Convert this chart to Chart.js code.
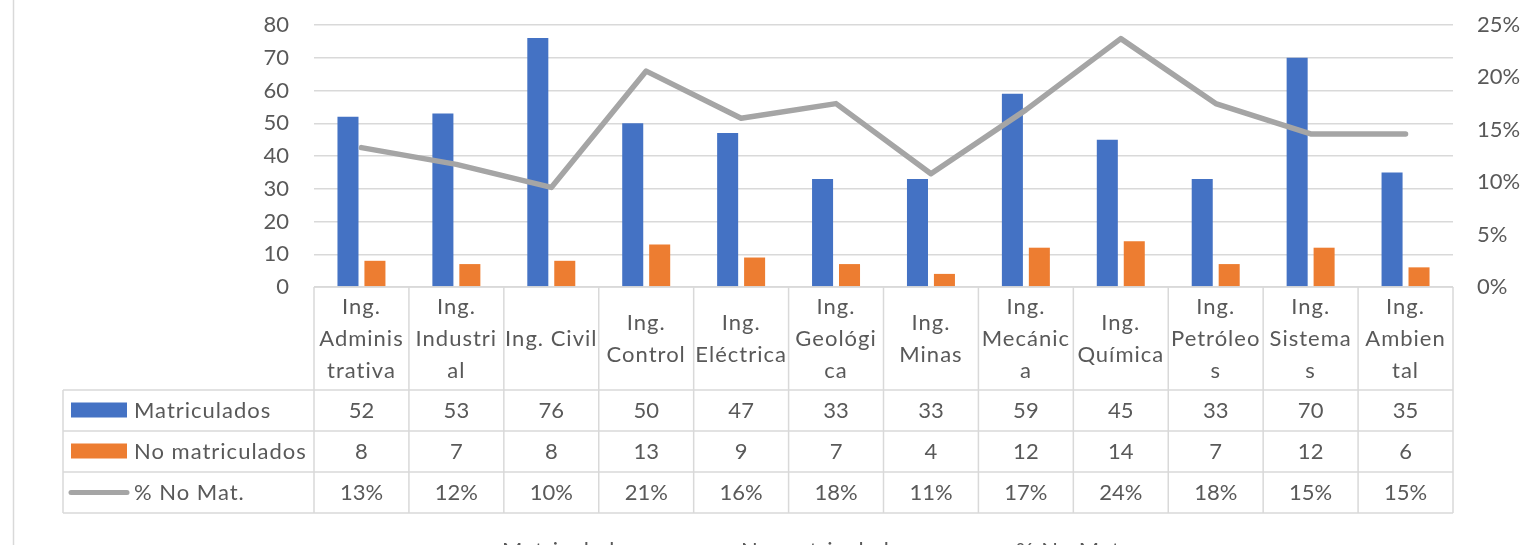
<!DOCTYPE html>
<html>
<head>
<meta charset="utf-8">
<script src="https://cdn.jsdelivr.net/npm/chart.js@4.4.1/dist/chart.umd.min.js"></script>
<style>
  html, body { margin: 0; padding: 0; background: #fff; }
  #chart { display: block; }
</style>
</head>
<body>
<canvas id="chart" width="1527" height="545"></canvas>
<script>
// Data
const categories = [
    ['Ing.', 'Adminis', 'trativa'], ['Ing.', 'Industri', 'al'], ['Ing. Civil'], ['Ing.', 'Control'],
    ['Ing.', 'Eléctrica'], ['Ing.', 'Geológi', 'ca'], ['Ing.', 'Minas'], ['Ing.', 'Mecánic', 'a'],
    ['Ing.', 'Química'], ['Ing.', 'Petróleo', 's'], ['Ing.', 'Sistema', 's'], ['Ing.', 'Ambien', 'tal']
];
const matriculados = [52, 53, 76, 50, 47, 33, 33, 59, 45, 33, 70, 35];
const noMatriculados = [8, 7, 8, 13, 9, 7, 4, 12, 14, 7, 12, 6];
const pctNoMat = [13.3, 11.7, 9.5, 20.6, 16.1, 17.5, 10.8, 16.9, 23.7, 17.5, 14.6, 14.6];
const seriesNames = ['Matriculados', 'No matriculados', '% No Mat.'];

const BLUE = '#4472C4', ORANGE = '#ED7D31', GRAY = '#A5A5A5';
const TEXT = '#595959', GRID = '#D9D9D9';
const FONT = '22px Lato';

Chart.defaults.font.family = 'Lato';
Chart.defaults.font.size = 22;
Chart.defaults.color = TEXT;

// Excel-style data table under the plot, plus frame and legend
const dataTable = {
    id: 'dataTable',
    beforeDraw(chart) {
        const ctx = chart.ctx;
        ctx.save();
        ctx.strokeStyle = GRID;
        ctx.lineWidth = 1.5;
        ctx.beginPath();
        ctx.moveTo(13.5, 0);
        ctx.lineTo(13.5, chart.height);
        ctx.stroke();
        ctx.restore();
    },
    afterDraw(chart) {
        const ctx = chart.ctx;
        const area = chart.chartArea;
        const x = chart.scales.x;
        const n = categories.length;
        const colW = (area.right - area.left) / n;
        const top = area.bottom;
        const headBottom = 390;
        const rowH = 41;
        const tableLeft = 63;
        const tableBottom = headBottom + rowH * 3;

        ctx.save();
        ctx.strokeStyle = GRID;
        ctx.lineWidth = 1.5;
        ctx.beginPath();
        // horizontal lines
        ctx.moveTo(area.left, top); ctx.lineTo(area.right, top);
        for (let r = 0; r <= 3; r++) {
            const y = headBottom + r * rowH;
            ctx.moveTo(tableLeft, y); ctx.lineTo(area.right, y);
        }
        // vertical lines
        for (let i = 0; i <= n; i++) {
            const vx = area.left + i * colW;
            ctx.moveTo(vx, top); ctx.lineTo(vx, tableBottom);
        }
        ctx.moveTo(tableLeft, headBottom); ctx.lineTo(tableLeft, tableBottom);
        ctx.stroke();

        ctx.fillStyle = TEXT;
        ctx.font = FONT;
        ctx.textAlign = 'center';
        ctx.textBaseline = 'middle';

        // header row with wrapped category names
        ctx.letterSpacing = '1px';
        const headMid = (top + headBottom) / 2;
        categories.forEach((lines, i) => {
            const cx = x.getPixelForValue(i);
            const start = headMid - (lines.length - 1) * 16;
            lines.forEach((t, k) => ctx.fillText(t, cx, start + k * 32));
        });

        // value rows
        ctx.letterSpacing = '0px';
        const rows = [matriculados, noMatriculados, pctNoMat.map(v => Math.round(v) + '%')];
        rows.forEach((vals, r) => {
            const cy = headBottom + r * rowH + rowH / 2;
            vals.forEach((v, i) => ctx.fillText(String(v), x.getPixelForValue(i), cy));
        });

        // legend keys in first column
        ctx.textAlign = 'left';
        ctx.letterSpacing = '1px';
        rows.forEach((_, r) => {
            const cy = headBottom + r * rowH + rowH / 2;
            if (r < 2) {
                ctx.fillStyle = r === 0 ? BLUE : ORANGE;
                ctx.fillRect(71, cy - 8, 56, 15);
            } else {
                ctx.strokeStyle = GRAY;
                ctx.lineWidth = 5;
                ctx.lineCap = 'round';
                ctx.beginPath();
                ctx.moveTo(71, cy); ctx.lineTo(127, cy);
                ctx.stroke();
            }
            ctx.fillStyle = TEXT;
            ctx.fillText(seriesNames[r], 134, cy);
        });

        // bottom legend (mostly cut off by the canvas edge)
        const legendX = [502, 741, 1016];
        const ly = 551;
        seriesNames.forEach((name, i) => {
            if (i < 2) {
                ctx.fillStyle = i === 0 ? BLUE : ORANGE;
                ctx.fillRect(legendX[i] - 18, ly - 5, 10, 10);
            } else {
                ctx.strokeStyle = GRAY;
                ctx.lineWidth = 4;
                ctx.beginPath();
                ctx.moveTo(legendX[i] - 40, ly); ctx.lineTo(legendX[i] - 8, ly);
                ctx.stroke();
            }
            ctx.fillStyle = TEXT;
            ctx.fillText(name, legendX[i], ly);
        });
        ctx.restore();
    }
};

// fixed axis widths, no extra label padding so the plot keeps Excel's box
const fixAxis = (w) => (axis) => {
    axis.width = w;
    axis.paddingTop = 0;
    axis.paddingBottom = 0;
};

new Chart(document.getElementById('chart'), {
    type: 'bar',
    data: {
        labels: categories,
        datasets: [
            {
                type: 'line',
                label: seriesNames[2],
                data: pctNoMat,
                yAxisID: 'y1',
                borderColor: GRAY,
                backgroundColor: GRAY,
                borderWidth: 5.5,
                borderCapStyle: 'round',
                borderJoinStyle: 'round',
                pointRadius: 0,
                tension: 0,
                order: 0
            },
            {
                label: seriesNames[0],
                data: matriculados,
                backgroundColor: BLUE,
                categoryPercentage: 0.568,
                barPercentage: 0.78,
                order: 1
            },
            {
                label: seriesNames[1],
                data: noMatriculados,
                backgroundColor: ORANGE,
                categoryPercentage: 0.568,
                barPercentage: 0.78,
                order: 1
            }
        ]
    },
    options: {
        responsive: false,
        animation: false,
        layout: { padding: { top: 25, bottom: 258, left: 0, right: 0 } },
        plugins: { legend: { display: false }, tooltip: { enabled: false } },
        scales: {
            x: { display: false },
            y: {
                position: 'left',
                min: 0,
                max: 80,
                ticks: { stepSize: 10, padding: 25, color: TEXT },
                grid: { color: GRID, lineWidth: 1.5, drawTicks: false },
                border: { display: false },
                afterFit: fixAxis(314)
            },
            y1: {
                position: 'right',
                min: 0,
                max: 25,
                ticks: { stepSize: 5, padding: 24, color: TEXT, callback: v => v + '%' },
                grid: { display: false, drawTicks: false },
                border: { display: false },
                afterFit: fixAxis(74)
            }
        }
    },
    plugins: [dataTable]
});
</script>
</body>
</html>
